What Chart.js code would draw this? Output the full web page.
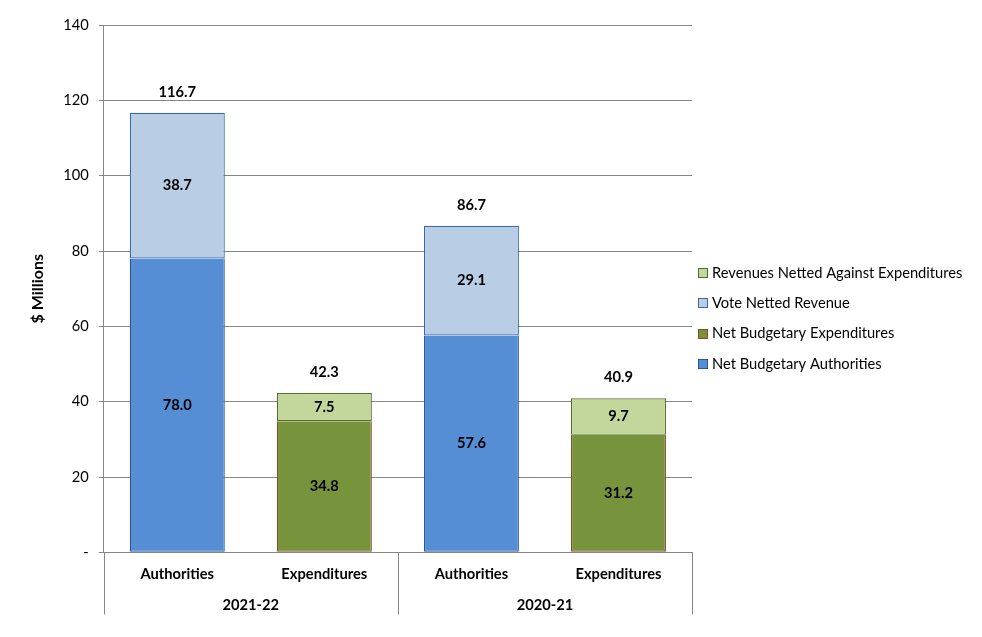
<!DOCTYPE html>
<html>
<head>
<meta charset="utf-8">
<script src="https://cdn.jsdelivr.net/npm/chart.js@4"></script>
<style>
html,body{margin:0;padding:0;background:#fff;}
#wrap{width:982px;height:637px;position:relative;}
</style>
</head>
<body>
<div id="wrap"><canvas id="c" width="982" height="637"></canvas></div>
<script>
const categories = ["Authorities", "Expenditures", "Authorities", "Expenditures"];
const groups = ["2021-22", "2020-21"];
const netBudgetaryAuthorities = [78.0, null, 57.6, null];
const voteNettedRevenue = [38.7, null, 29.1, null];
const netBudgetaryExpenditures = [null, 34.8, null, 31.2];
const revenuesNetted = [null, 7.5, null, 9.7];
const totals = [116.7, 42.3, 86.7, 40.9];
const yTicks = [0, 20, 40, 60, 80, 100, 120, 140];

const FONT = "Lato, 'Open Sans', sans-serif";
const FS = 14.7;

const labelPlugin = {
  id: 'labels',
  afterDatasetsDraw(chart) {
    const ctx = chart.ctx;
    ctx.save();
    ctx.font = "bold " + FS + "px " + FONT;
    ctx.fillStyle = "#000";
    ctx.textAlign = "center";
    ctx.textBaseline = "middle";
    chart.data.datasets.forEach((ds, di) => {
      const meta = chart.getDatasetMeta(di);
      meta.data.forEach((bar, i) => {
        const v = ds.data[i];
        if (v === null || v === undefined) return;
        const p = bar.getProps(['x', 'y', 'base'], true);
        ctx.fillText(v.toFixed(1), p.x, (p.y + p.base) / 2);
      });
    });
    const ys = chart.scales.y, xs = chart.scales.x;
    totals.forEach((t, i) => {
      ctx.fillText(t.toFixed(1), xs.getPixelForValue(i), ys.getPixelForValue(t) - 21);
    });
    ctx.restore();
  },
  afterDraw(chart) {
    const ctx = chart.ctx;
    const xs = chart.scales.x, ca = chart.chartArea;
    ctx.save();
    ctx.strokeStyle = "#868686";
    ctx.lineWidth = 1;
    const bounds = [ca.left, (xs.getPixelForValue(1) + xs.getPixelForValue(2)) / 2, ca.right];
    bounds.forEach(x => {
      const xx = Math.round(x) + 0.5;
      ctx.beginPath();
      ctx.moveTo(xx, ca.bottom);
      ctx.lineTo(xx, ca.bottom + 62);
      ctx.stroke();
    });
    ctx.font = "bold " + FS + "px " + FONT;
    ctx.fillStyle = "#000";
    ctx.textAlign = "center";
    ctx.textBaseline = "middle";
    groups.forEach((g, gi) => {
      const x = (xs.getPixelForValue(gi * 2) + xs.getPixelForValue(gi * 2 + 1)) / 2;
      ctx.fillText(g, x, ca.bottom + 53);
    });
    // legend (reverse order), drawn to the right of the plot area
    ctx.font = FS + "px " + FONT;
    ctx.textAlign = "left";
    const items = chart.data.datasets.slice().reverse();
    const lx = ca.right + 6;
    const centerY = 318.5;
    const step = 30.3;
    items.forEach((ds, i) => {
      const y = centerY + (i - (items.length - 1) / 2) * step;
      ctx.fillStyle = ds.backgroundColor;
      ctx.fillRect(lx, Math.round(y - 5), 10, 10);
      ctx.strokeStyle = ds.borderColor;
      ctx.lineWidth = 1;
      ctx.strokeRect(lx + 0.5, Math.round(y - 5) + 0.5, 9, 9);
      ctx.fillStyle = "#000";
      ctx.fillText(ds.label, lx + 14, y);
    });
    ctx.restore();
  }
};

new Chart(document.getElementById('c'), {
  type: 'bar',
  data: {
    labels: categories,
    datasets: [
      { label: "Net Budgetary Authorities", data: netBudgetaryAuthorities, backgroundColor: "#558ED5", borderColor: "#2F5590", borderWidth: 1.2, borderSkipped: 'end' },
      { label: "Net Budgetary Expenditures", data: netBudgetaryExpenditures, backgroundColor: "#77933C", borderColor: "#8B4A2B", borderWidth: 1.2, borderSkipped: 'end' },
      { label: "Vote Netted Revenue", data: voteNettedRevenue, backgroundColor: "#B9CDE5", borderColor: "#3C68A8", borderWidth: 1.2, borderSkipped: false },
      { label: "Revenues Netted Against Expenditures", data: revenuesNetted, backgroundColor: "#C3D69B", borderColor: "#52702A", borderWidth: 1.2, borderSkipped: false }
    ]
  },
  options: {
    responsive: false,
    animation: false,
    layout: { padding: { top: 25, bottom: 49, left: 28, right: 290 } },
    datasets: { bar: { barPercentage: 0.646, categoryPercentage: 1.0, skipNull: true } },
    plugins: {
      legend: { display: false },
      tooltip: { enabled: false }
    },
    scales: {
      x: {
        stacked: true,
        grid: { display: false },
        border: { display: true, color: "#868686" },
        ticks: { color: "#000", font: { family: FONT, size: FS, weight: 'bold' }, padding: 5 }
      },
      y: {
        stacked: true,
        min: 0, max: 140,
        afterBuildTicks(scale) { scale.ticks = yTicks.map(v => ({ value: v })); },
        grid: { color: "#868686", tickLength: 5, drawTicks: true },
        border: { display: true, color: "#868686" },
        ticks: {
          color: "#000", font: { family: FONT, size: FS }, padding: 10,
          callback: (v) => v === 0 ? "-" : String(v)
        },
        title: { display: true, text: "$ Millions", color: "#000", font: { family: FONT, size: 16, weight: 'bold' }, padding: { top: 0, bottom: 6 } }
      }
    }
  },
  plugins: [labelPlugin]
});
</script>
</body>
</html>
